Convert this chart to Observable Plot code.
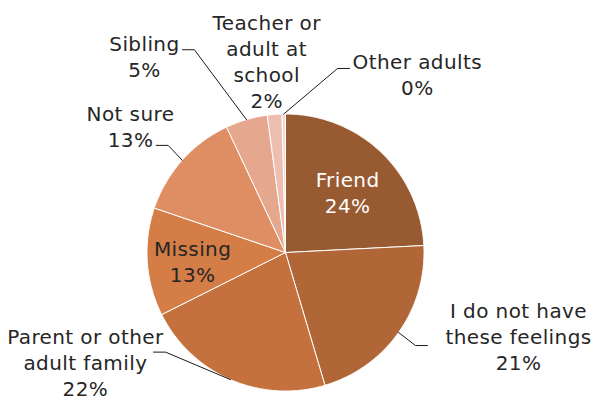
<!DOCTYPE html>
<html><head><meta charset="utf-8">
<script src="https://cdn.jsdelivr.net/npm/d3@7"></script>
<script src="https://cdn.jsdelivr.net/npm/@observablehq/plot@0.6"></script>
<style>html,body{margin:0;padding:0;background:#fff}#chart svg{display:block}#chart text{letter-spacing:0.4px}</style>
</head><body><div id="chart"></div>
<script>
// ---- data ----
const categories = ["Friend", "I do not have\nthese feelings", "Parent or other\nadult family", "Missing", "Not sure", "Sibling", "Teacher or\nadult at\nschool", "Other adults"];
const values = [24.2, 21.2, 22.2, 12.6, 12.8, 4.9, 1.7, 0.4];
const colors = ["#985a31", "#b06637", "#c4713e", "#d47d46", "#df8d63", "#e5a78d", "#eebfb0", "#f5d6cf"];
const labelColors = ["#ffffff", "#262626", "#262626", "#262626", "#262626", "#262626", "#262626", "#262626"];
// label layout: angle (deg clockwise from 12 o'clock) and distance (in pie radii)
const labelAngle = [47.1, 110.4, 240.8, 262.9, 308.7, 323.9, 354.3, 36.9];
const labelRadius = [0.612, 1.795, 1.655, 0.676, 1.434, 1.729, 1.369, 1.585];
// leader-line elbows (null = no leader), stub direction
const leaderAngle = [null, 125.6, 230.3, null, 312.4, 335.8, null, 15.8];
const leaderRadius = [null, 1.154, 1.126, null, 1.147, 1.605, null, 1.381];
const leaderStub = [0, 1, -1, 0, -1, -1, 0, 1];

// ---- geometry in unit (pie-radius) coordinates ----
const W = 592, H = 402, R = 138.5, CX = 285, CY = 252;
const total = d3.sum(values);
const rad = a => a * Math.PI / 180;
const pt = (a, r) => ({u: r * Math.sin(rad(a)), v: r * Math.cos(rad(a))});
let cum = 0;
const slices = values.map((val, i) => {
  const a0 = cum / total * 360; cum += val; const a1 = cum / total * 360;
  return {i, name: categories[i], a0, a1, mid: (a0 + a1) / 2};
});
const slicePts = [];
slices.forEach(s => {
  const n = Math.max(2, Math.ceil((s.a1 - s.a0) / 0.5));
  slicePts.push({name: s.name, color: colors[s.i], u: 0, v: 0});
  for (let k = 0; k <= n; k++) {
    const p = pt(s.a0 + (s.a1 - s.a0) * k / n, 1);
    slicePts.push({name: s.name, color: colors[s.i], ...p});
  }
  slicePts.push({name: s.name, color: colors[s.i], u: 0, v: 0});
});
const labels = slices.map(s => ({
  ...pt(labelAngle[s.i], labelRadius[s.i]),
  text: categories[s.i] + "\n" + Math.round(values[s.i]) + "%",
  color: labelColors[s.i]
}));
const stubLen = 12 / R;
const leaderPts = [];
slices.forEach(s => {
  if (leaderAngle[s.i] == null) return;
  const e = pt(s.mid, 1);
  const b = pt(leaderAngle[s.i], leaderRadius[s.i]);
  leaderPts.push({name: s.name, ...e});
  leaderPts.push({name: s.name, ...b});
  leaderPts.push({name: s.name, u: b.u + leaderStub[s.i] * stubLen, v: b.v});
});

const chart = Plot.plot({
  width: W, height: H,
  marginLeft: CX - R, marginRight: W - CX - R,
  marginTop: CY - R, marginBottom: H - CY - R,
  x: {domain: [-1, 1], axis: null},
  y: {domain: [-1, 1], axis: null},
  color: {type: "identity"},
  style: {fontFamily: "DejaVu Sans, sans-serif", background: "#fff", overflow: "visible"},
  marks: [
    Plot.line(slicePts, {x: "u", y: "v", z: "name", fill: "color", stroke: "#fff", strokeWidth: 1, strokeLinejoin: "round"}),
    Plot.line(leaderPts, {x: "u", y: "v", z: "name", stroke: "#1a1a1a", strokeWidth: 1}),
    Plot.text(labels, {x: "u", y: "v", dy: -3, text: "text", fill: "color", fontSize: 20, lineHeight: 1.3})
  ]
});
document.getElementById("chart").append(chart);
</script></body></html>
